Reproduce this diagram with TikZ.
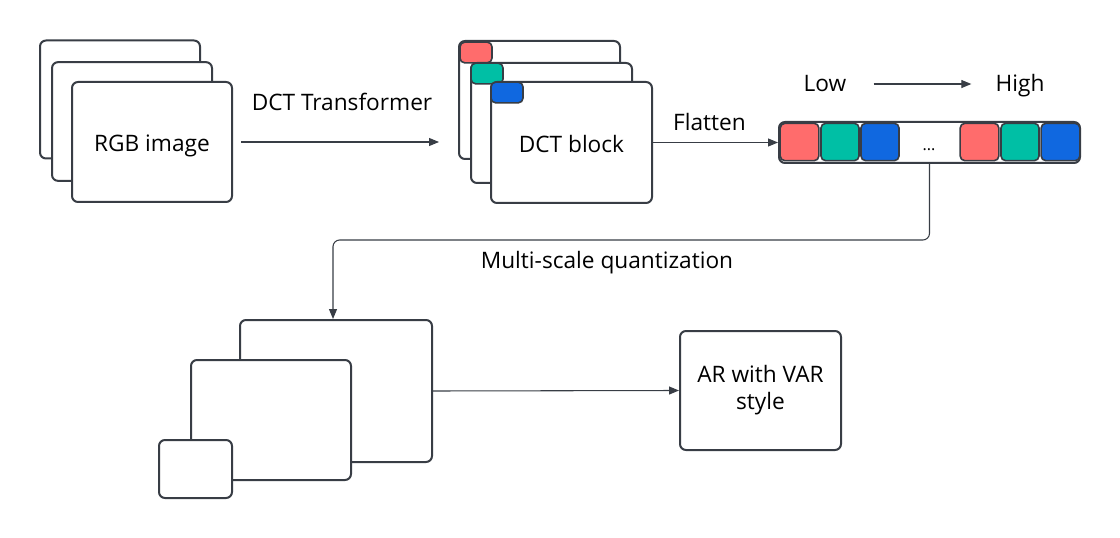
\documentclass[tikz,border=0pt]{standalone}
\usepackage{fontspec}
\setmainfont{Open Sans}
\usetikzlibrary{arrows.meta}
\definecolor{dark}{RGB}{56,61,69}
\definecolor{cred}{RGB}{255,108,108}
\definecolor{cgreen}{RGB}{0,191,165}
\definecolor{cblue}{RGB}{16,104,224}
\tikzset{
  box/.style={draw=dark, line width=1.5pt, fill=white, rounded corners=4.5pt, inner sep=0pt, font=\fontsize{17}{20.25}\selectfont, align=center},
  oneline/.style={text height=14.5pt, text depth=0pt},
  cell/.style={draw=dark, line width=1.2pt, rounded corners=3.5pt, inner sep=0pt},
  conn/.style={draw=dark, line width=0.8pt, -{Triangle[length=7.5pt,width=6pt]}},
  lbl/.style={font=\fontsize{17}{20}\selectfont, inner sep=0pt, text=black, anchor=base},
}
\begin{document}
\begin{tikzpicture}[x=0.75pt, y=-0.75pt]
\useasboundingbox (0,0) rectangle (1120,538);
% RGB stack
\node[box, minimum width=120pt, minimum height=88.5pt] (rgbA) at (120,99.5) {};
\node[box, minimum width=120pt, minimum height=89pt] (rgbB) at (132,121.5) {};
\node[box, oneline, minimum width=120pt, minimum height=90pt] (rgbC) at (152,142) {RGB image};
% DCT stack
\node[box, minimum width=120.75pt, minimum height=88.5pt] (dctA) at (539.5,100) {};
\node[cell, fill=cred, minimum width=24pt, minimum height=15.5pt] (sqR) at (476,52.5) {};
\node[box, minimum width=120.75pt, minimum height=90pt] (dctB) at (551.5,123) {};
\node[cell, fill=cgreen, minimum width=24pt, minimum height=15.5pt] (sqG) at (487,73.5) {};
\node[box, oneline, minimum width=120.75pt, minimum height=90.75pt] (dctC) at (571.5,142.5) {DCT block};
\node[cell, fill=cblue, minimum width=24pt, minimum height=15.5pt] (sqB) at (507,92.5) {};
% flattened bar
\node[box, minimum width=225.75pt, minimum height=30.75pt] (bar) at (929.5,142.5) {};
\node[cell, fill=cred, minimum width=29pt, minimum height=28pt] (c1) at (799.5,142) {};
\node[cell, fill=cgreen, minimum width=28.5pt, minimum height=28pt] (c2) at (840,142) {};
\node[cell, fill=cblue, minimum width=28.5pt, minimum height=28pt] (c3) at (880,142) {};
\node[inner sep=0pt, anchor=base, font=\fontsize{12}{14}\selectfont] (dots) at (929,151) {...};
\node[cell, fill=cred, minimum width=29pt, minimum height=28pt] (c4) at (979.5,142) {};
\node[cell, fill=cgreen, minimum width=28.5pt, minimum height=28pt] (c5) at (1020,142) {};
\node[cell, fill=cblue, minimum width=29pt, minimum height=28pt] (c6) at (1060.5,142) {};
% labels
\node[lbl] (tDCT) at (342,111) {DCT Transformer};
\node[lbl] (tFlat) at (709.5,131) {Flatten};
\node[lbl] (low) at (825,92) {Low};
\node[lbl] (high) at (1020,92) {High};
\node[lbl] (tMS) at (607,268) {Multi-scale quantization};
% bottom stack
\node[box, minimum width=144pt, minimum height=106.5pt] (big) at (336,391) {};
\node[box, minimum width=120pt, minimum height=90pt] (mid) at (271,420) {};
\node[box, minimum width=54.75pt, minimum height=43.5pt] (small) at (195.5,469) {};
% AR box
\node[box, minimum width=120.75pt, minimum height=89.25pt] (ar) at (760.5,390.5) {AR with VAR\\style};
% connectors
\coordinate (qy) at (0,240);
\draw[conn] ([xshift=6pt]rgbC.east) -- ([xshift=-14.25pt]dctA.west |- rgbC.east);
\draw[conn] (dctC.east) -- (bar.west |- dctC.east);
\draw[conn, shorten <=20.25pt, shorten >=18pt] (low.east) -- (low.east -| high.west);
\draw[conn, rounded corners=5pt] (bar.south) -- (bar.south |- qy) -- ([xshift=-2.25pt]big.north |- qy) -- ([xshift=-2.25pt]big.north);
\draw[conn] (big.east) -- (ar.west);
\end{tikzpicture}
\end{document}
